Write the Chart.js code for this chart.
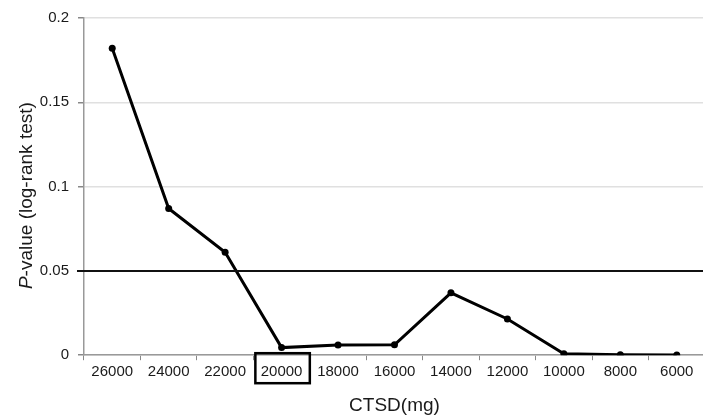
<!DOCTYPE html>
<html>
<head>
<meta charset="utf-8">
<script src="https://cdn.jsdelivr.net/npm/chart.js@4/dist/chart.umd.min.js"></script>
<style>
  html, body { margin: 0; padding: 0; background: #fff; overflow: hidden; }
  body { width: 703px; height: 416px; }
  #wrap { position: relative; width: 709px; height: 416px; }
</style>
</head>
<body>
<div id="wrap"><canvas id="pChart"></canvas></div>
<script>
const doses = ['26000', '24000', '22000', '20000', '18000', '16000', '14000', '12000', '10000', '8000', '6000'];
const pValues = [0.182, 0.087, 0.061, 0.0045, 0.006, 0.0062, 0.037, 0.0215, 0.0008, 0.0002, 0.0001];
const yTicks = [0, 0.05, 0.1, 0.15, 0.2];
const threshold = 0.05;
const boxedLabel = '20000';
const FONT = 'Liberation Sans, Arial, sans-serif';

// black reference line at p = 0.05, sticking out a little past the y axis
const thresholdLine = {
    id: 'thresholdLine',
    afterDatasetsDraw(chart) {
        const ctx = chart.ctx;
        const area = chart.chartArea;
        const y = chart.scales.y.getPixelForValue(threshold);
        ctx.save();
        ctx.strokeStyle = '#111';
        ctx.lineWidth = 2;
        ctx.beginPath();
        ctx.moveTo(area.left - 7, y);
        ctx.lineTo(chart.width, y);
        ctx.stroke();
        ctx.restore();
    }
};

// frame round the highlighted dose label
const labelBox = {
    id: 'labelBox',
    afterDraw(chart) {
        const xs = chart.scales.x;
        const idx = doses.indexOf(boxedLabel);
        const cx = xs.getPixelForValue(idx);
        const w = xs.width / doses.length;
        const ctx = chart.ctx;
        ctx.save();
        ctx.strokeStyle = '#000';
        ctx.lineWidth = 2.5;
        ctx.strokeRect(cx - w / 2 + 2, xs.top - 2, w - 2, 30);
        ctx.restore();
    }
};

// y title drawn by hand so the P can be italic (the scale title only keeps the space)
const yTitle = {
    id: 'yTitle',
    afterDraw(chart) {
        const ys = chart.scales.y;
        const ctx = chart.ctx;
        const cy = (ys.top + ys.bottom) / 2 + 9;
        const x = chart.chartArea.left - 57;
        const first = 'P';
        const rest = '-value (log-rank test)';
        ctx.save();
        ctx.translate(x, cy);
        ctx.rotate(-Math.PI / 2);
        ctx.fillStyle = '#1a1a1a';
        ctx.textBaseline = 'middle';
        ctx.font = 'italic 19px ' + FONT;
        const w1 = ctx.measureText(first).width;
        ctx.font = '19px ' + FONT;
        const w2 = ctx.measureText(rest).width;
        let sx = -(w1 + w2) / 2;
        ctx.font = 'italic 19px ' + FONT;
        ctx.fillText(first, sx, 0);
        ctx.font = '19px ' + FONT;
        ctx.fillText(rest, sx + w1, 0);
        ctx.restore();
    }
};

const ctx0 = document.getElementById('pChart').getContext('2d');
new Chart(ctx0, {
    type: 'line',
    data: {
        labels: doses,
        datasets: [{
            data: pValues,
            borderColor: '#000',
            backgroundColor: '#000',
            borderWidth: 3,
            pointRadius: 3.5,
            pointBackgroundColor: '#000',
            pointBorderWidth: 0,
            tension: 0
        }]
    },
    options: {
        responsive: true,
        maintainAspectRatio: false,
        animation: false,
        layout: { padding: { top: 8, right: 0, left: 5, bottom: -1 } },
        plugins: {
            legend: { display: false },
            tooltip: { enabled: false }
        },
        scales: {
            x: {
                offset: true,
                grid: {
                    drawOnChartArea: false,
                    color: '#888',
                    tickLength: 5,
                    offset: true
                },
                border: { color: '#999', width: 1.5 },
                ticks: {
                    color: '#1a1a1a',
                    font: { family: FONT, size: 15 },
                    maxRotation: 0,
                    autoSkip: false,
                    padding: 3
                },
                title: {
                    display: true,
                    text: 'CTSD(mg)',
                    color: '#1a1a1a',
                    font: { family: FONT, size: 19 },
                    padding: { top: 10, bottom: 0 }
                }
            },
            y: {
                min: 0,
                max: 0.2,
                afterBuildTicks(scale) {
                    scale.ticks = yTicks.map(v => ({ value: v }));
                },
                grid: {
                    color: '#e0e0e0',
                    lineWidth: 1.5,
                    tickColor: '#888',
                    tickLength: 6
                },
                border: { color: '#999', width: 1.5 },
                ticks: {
                    color: '#1a1a1a',
                    font: { family: FONT, size: 15 },
                    padding: 9,
                    callback: v => String(v)
                },
                title: {
                    display: true,
                    text: 'P-value (log-rank test)',
                    color: 'rgba(0,0,0,0)',
                    font: { family: FONT, size: 19 },
                    padding: { top: 0, bottom: 3 }
                }
            }
        }
    },
    plugins: [thresholdLine, labelBox, yTitle]
});
</script>
</body>
</html>
